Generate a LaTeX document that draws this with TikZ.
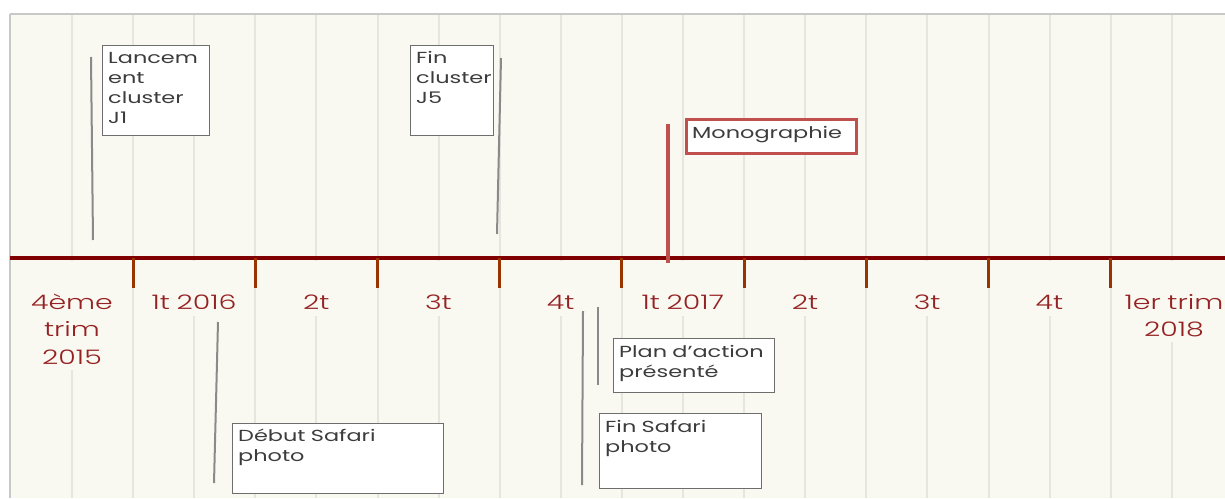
\documentclass[tikz,border=0pt]{standalone}
\usepackage{fontspec}
\setmainfont[FakeStretch=1.4]{Poppins}
\newfontfamily\qfont[FakeStretch=1.42]{Poppins Light}
\definecolor{bgcream}{HTML}{F9F8F1}
\definecolor{gridc}{HTML}{E6E5DE}
\definecolor{borderc}{HTML}{C8C8C8}
\definecolor{axisc}{HTML}{800000}
\definecolor{tickc}{HTML}{993300}
\definecolor{labelc}{HTML}{952222}
\definecolor{stemc}{HTML}{8A8A8A}
\definecolor{boxc}{HTML}{6E6E6E}
\definecolor{monoc}{HTML}{C0504D}
\definecolor{textc}{HTML}{3C3C3C}
\tikzset{
  gridline/.style={draw=gridc, line width=2pt},
  borderline/.style={draw=borderc, line width=1.5pt},
  axisline/.style={draw=axisc, line width=4pt},
  tickline/.style={draw=tickc, line width=3pt},
  qlabel/.style={anchor=base, inner sep=0pt, text width=118pt, align=center, text=labelc, font=\qfont\fontsize{20}{27.5}\selectfont},
  stemline/.style={draw=stemc, line width=2pt},
  annbox/.style={draw=boxc, line width=1.3pt, fill=white, inner sep=0pt, anchor=north west},
  anntext/.style={anchor=base west, inner sep=0pt, text width=200pt, align=left, text=textc, font=\fontsize{16}{20}\selectfont},
}
\begin{document}
\begin{tikzpicture}[x=1pt,y=-1pt]
\useasboundingbox (0,0) rectangle (1225,498);
\fill[white] (0,0) rectangle (1225,498);
\fill[bgcream] (10,14) rectangle (1225,498);
% grid
\foreach \k in {0,...,19}{
  \draw[gridline] ({72+61.1*\k},14) -- ({72+61.1*\k},498);
}
\draw[borderline] (10,14) -- (1225,14);
\draw[borderline] (10,14) -- (10,498);
% label backgrounds
\fill[bgcream] (13,261) rectangle (131,370);
\foreach \c in {194,316.2,438.4,560.6,682.8,805,927.2,1049.4}{
  \fill[bgcream] ({\c-59},261) rectangle ({\c+59},316);
}
\fill[bgcream] (1113,261) rectangle (1225,342);
% axis
\coordinate (ax0) at (10,258);
\coordinate (ax1) at (1225,258);
\draw[axisline] (ax0) -- (ax1);
\foreach \i in {0,...,8}{
  \coordinate (ta\i) at ({133+122.2*\i},258);
  \coordinate (tb\i) at ({133+122.2*\i},288);
  \draw[tickline] (ta\i) -- (tb\i);
}
% quarter labels
\node[qlabel] (q0) at (72,309) {4ème\\trim\\2015};
\node[qlabel] (q1) at (194,309) {1t 2016};
\node[qlabel] (q2) at (316.2,309) {2t};
\node[qlabel] (q3) at (438.4,309) {3t};
\node[qlabel] (q4) at (560.6,309) {4t};
\node[qlabel] (q5) at (682.8,309) {1t 2017};
\node[qlabel] (q6) at (805,309) {2t};
\node[qlabel] (q7) at (927.2,309) {3t};
\node[qlabel] (q8) at (1049.4,309) {4t};
\node[qlabel] (q9) at (1174,309) {1er trim\\2018};
% stems
\coordinate (s1a) at (91,57);   \coordinate (s1b) at (93,240);
\coordinate (s2a) at (501,58);  \coordinate (s2b) at (497,234);
\coordinate (s3a) at (668,124); \coordinate (s3b) at (668,263);
\coordinate (s4a) at (598,307); \coordinate (s4b) at (598,385);
\coordinate (s5a) at (583,311); \coordinate (s5b) at (582,485);
\coordinate (s6a) at (218,322); \coordinate (s6b) at (214,483);
\draw[stemline] (s1a) -- (s1b);
\draw[stemline] (s2a) -- (s2b);
\draw[draw=monoc, line width=4pt] (s3a) -- (s3b);
\draw[stemline] (s4a) -- (s4b);
\draw[stemline] (s5a) -- (s5b);
\draw[stemline] (s6a) -- (s6b);
% boxes
\node[annbox, minimum width=107pt, minimum height=90pt] (b1) at (102,45) {};
\node[anntext] (t1) at (108,63.5) {Lancem\\ent\\cluster\\J1};
\node[annbox, minimum width=83pt, minimum height=90pt] (b2) at (410,45) {};
\node[anntext] (t2) at (416,63) {Fin\\cluster\\J5};
\node[annbox, draw=monoc, line width=3pt, minimum width=170pt, minimum height=34pt] (b3) at (685,118) {};
\node[anntext] (t3) at (692,138) {Monographie};
\node[annbox, minimum width=161pt, minimum height=54pt] (b4) at (613,338) {};
\node[anntext] (t4) at (619,357) {Plan d'action\\présenté};
\node[annbox, minimum width=162pt, minimum height=75pt] (b5) at (599,413) {};
\node[anntext] (t5) at (605,432) {Fin Safari\\photo};
\node[annbox, minimum width=211pt, minimum height=70pt] (b6) at (232,423) {};
\node[anntext] (t6) at (238,441) {Début Safari\\photo};
\end{tikzpicture}
\end{document}
